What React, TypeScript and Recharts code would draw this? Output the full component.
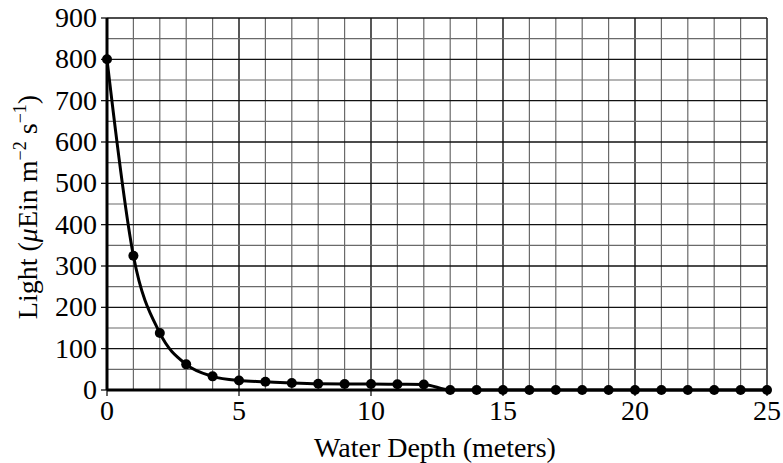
import { LineChart, Line, XAxis, YAxis, ReferenceLine } from "recharts";

const depths = [0, 1, 2, 3, 4, 5, 6, 7, 8, 9, 10, 11, 12, 13, 14, 15, 16, 17, 18, 19, 20, 21, 22, 23, 24, 25];
const light = [800, 325, 138, 62, 33, 23, 20, 17, 15, 14.5, 14.5, 14, 13.5, 0, 0, 0, 0, 0, 0, 0, 0, 0, 0, 0, 0, 0];
const xTicks = [0, 5, 10, 15, 20, 25];
const yTicks = [0, 100, 200, 300, 400, 500, 600, 700, 800, 900];
const xGrid = depths;
const yGrid = [50, 100, 150, 200, 250, 300, 350, 400, 450, 500, 550, 600, 650, 700, 750, 800, 850, 900];

const data = depths.map((d, i) => ({ depth: d, light: light[i] }));
const FONT = "Liberation Serif";

function XTick({ x, y, payload }: any) {
  return (
    <text x={x} y={y + 24} textAnchor="middle" fontFamily={FONT} fontSize={28} fill="#000">
      {payload.value}
    </text>
  );
}

function YTick({ x, y, payload }: any) {
  return (
    <text x={x - 4} y={y + 9} textAnchor="end" fontFamily={FONT} fontSize={28} fill="#000">
      {payload.value}
    </text>
  );
}

function YLabel() {
  return (
    <text
      x={0}
      y={0}
      transform="translate(37,207) rotate(-90)"
      textAnchor="middle"
      fontFamily={FONT}
      fontSize={28}
      fill="#000"
    >
      <tspan>Light (</tspan>
      <tspan fontStyle="italic">μ</tspan>
      <tspan>Ein m</tspan>
      <tspan dy={-11} fontSize={18}>−2</tspan>
      <tspan dy={11}> s</tspan>
      <tspan dy={-11} fontSize={18}>−1</tspan>
      <tspan dy={11}>)</tspan>
    </text>
  );
}

function XLabel() {
  return (
    <text x={435} y={457} textAnchor="middle" fontFamily={FONT} fontSize={28} fill="#000">
      Water Depth (meters)
    </text>
  );
}

export default function App() {
  return (
    <div style={{ position: "absolute", left: 0, top: 0, width: 783, height: 463, background: "#fff" }}>
      <LineChart width={783} height={463} data={data} margin={{ top: 18, right: 16, bottom: 0, left: 0 }}>
        {xGrid.map(v => (
          <ReferenceLine key={"x" + v} x={v} stroke={v % 5 === 0 ? "#111" : "#6a6a6a"} strokeWidth={v % 5 === 0 ? 1.4 : 1.2} />
        ))}
        {yGrid.map(v => (
          <ReferenceLine key={"y" + v} y={v} stroke={v % 100 === 0 ? "#111" : "#6a6a6a"} strokeWidth={v % 100 === 0 ? 1.4 : 1.2} />
        ))}
        <XAxis
          dataKey="depth"
          type="number"
          domain={[0, 25]}
          ticks={xTicks}
          interval={0}
          height={73}
          axisLine={{ stroke: "#000", strokeWidth: 3 }}
          tickLine={{ stroke: "#000", strokeWidth: 1.2 }}
          tickSize={6}
          tickMargin={0}
          tick={<XTick />}
          label={<XLabel />}
        />
        <YAxis
          type="number"
          domain={[0, 900]}
          ticks={yTicks}
          interval={0}
          width={107}
          axisLine={{ stroke: "#000", strokeWidth: 3 }}
          tickLine={{ stroke: "#000", strokeWidth: 1.2 }}
          tickSize={6}
          tickMargin={0}
          tick={<YTick />}
          label={<YLabel />}
        />
        <Line
          type="monotone"
          dataKey="light"
          stroke="#000"
          strokeWidth={3}
          dot={{ r: 5, fill: "#000", stroke: "#000", strokeWidth: 0 }}
          activeDot={false}
          isAnimationActive={false}
        />
      </LineChart>
    </div>
  );
}
